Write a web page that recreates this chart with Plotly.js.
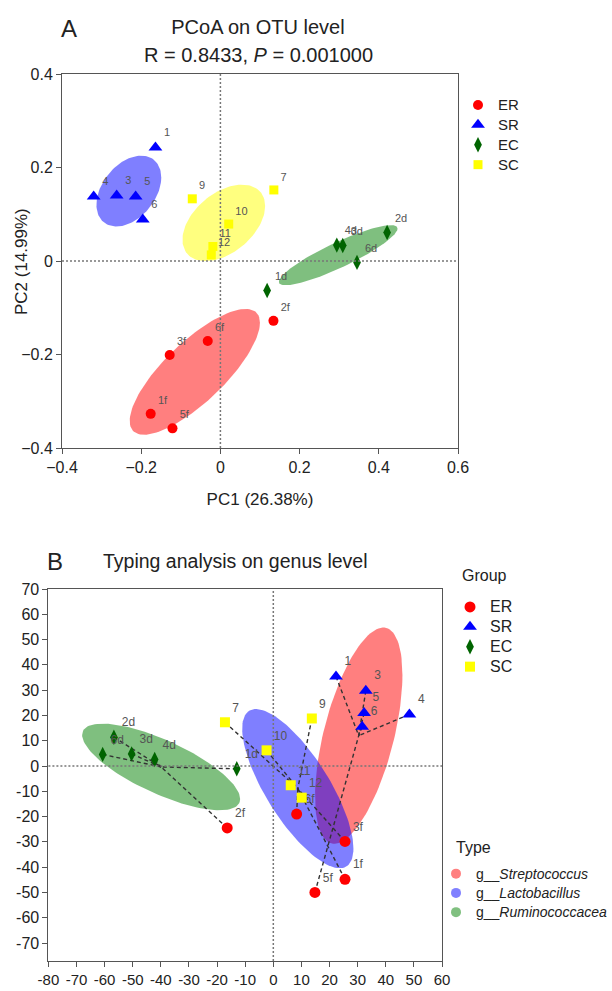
<!DOCTYPE html>
<html><head><meta charset="utf-8">
<script src="https://cdn.plot.ly/plotly-3.0.1.min.js"></script>
<style>html,body{margin:0;padding:0;background:#fff}</style>
</head><body><div id="chart" style="width:612px;height:991px"></div>
<script>
// ---------- Panel A: PCoA on OTU level ----------
const groupNames = ['ER', 'SR', 'EC', 'SC'];
const pcoaLabelsER = ['1f', '2f', '3f', '5f', '6f'];
const pcoaER_x = [-0.176, 0.134, -0.128, -0.121, -0.032];
const pcoaER_y = [-0.327, -0.128, -0.201, -0.358, -0.171];
const pcoaLabelsSR = ['1', '3', '4', '5', '6'];
const pcoaSR_x = [-0.164, -0.262, -0.320, -0.214, -0.196];
const pcoaSR_y = [0.243, 0.140, 0.138, 0.138, 0.089];
const pcoaLabelsEC = ['1d', '2d', '3d', '4d', '6d'];
const pcoaEC_x = [0.118, 0.421, 0.309, 0.294, 0.345];
const pcoaEC_y = [-0.063, 0.061, 0.033, 0.034, -0.003];
const pcoaLabelsSC = ['7', '9', '10', '11', '12'];
const pcoaSC_x = [0.135, -0.071, 0.021, -0.019, -0.023];
const pcoaSC_y = [0.152, 0.133, 0.079, 0.031, 0.013];
const pcoaXTicks = [-0.4, -0.2, 0, 0.2, 0.4, 0.6];
const pcoaYTicks = [-0.4, -0.2, 0, 0.2, 0.4];

// ---------- Panel B: Typing analysis on genus level ----------
const typeNames = ['Streptococcus', 'Lactobacillus', 'Ruminococcacea'];
const genusLabelsER = ['1f', '2f', '3f', '5f', '6f'];
const genusER_x = [25.5, -16.4, 25.5, 14.8, 8.3];
const genusER_y = [-44.8, -24.5, -29.8, -50.0, -19.0];
const genusTypeER = ['Lactobacillus', 'Ruminococcacea', 'Lactobacillus', 'Streptococcus', 'Lactobacillus'];
const genusLabelsSR = ['1', '3', '4', '5', '6'];
const genusSR_x = [22.3, 32.9, 48.4, 32.3, 31.6];
const genusSR_y = [35.4, 29.8, 20.4, 21.0, 15.5];
const genusTypeSR = ['Streptococcus', 'Streptococcus', 'Streptococcus', 'Streptococcus', 'Streptococcus'];
const genusLabelsEC = ['1d', '2d', '3d', '4d', '6d'];
const genusEC_x = [-13.0, -56.7, -50.4, -42.2, -60.7];
const genusEC_y = [-1.1, 11.4, 4.8, 2.6, 4.6];
const genusTypeEC = ['Ruminococcacea', 'Ruminococcacea', 'Ruminococcacea', 'Ruminococcacea', 'Ruminococcacea'];
const genusLabelsSC = ['7', '9', '10', '11', '12'];
const genusSC_x = [-17.2, 13.7, -2.4, 6.2, 10.1];
const genusSC_y = [17.3, 18.8, 6.2, -7.6, -12.5];
const genusTypeSC = ['Lactobacillus', 'Lactobacillus', 'Lactobacillus', 'Lactobacillus', 'Lactobacillus'];
const genusXTicks = [-80, -70, -60, -50, -40, -30, -20, -10, 0, 10, 20, 30, 40, 50, 60];
const genusXTickText = ['-80', '-70', '-60', '-50', '-40', '-30', '-20', '-10', '0', '10', '20', '30', '40', '50', '60'];
const genusYTicks = [-70, -60, -50, -40, -30, -20, -10, 0, 10, 20, 30, 40, 50, 60, 70];
const genusYTickText = ['-70', '-60', '-50', '-40', '-30', '-20', '-10', '0', '10', '20', '30', '40', '50', '60', '70'];

// ---------- styles ----------
const FONT = "'Liberation Sans', Arial, sans-serif";
const TXT = '#222';
const groupColors = {ER: '#ff0000', SR: '#0000ff', EC: '#006400', SC: '#ffff00'};
const groupSymbols = {ER: 'circle', SR: 'triangle-up', EC: 'diamond-tall', SC: 'square'};
const groupSizesA = {ER: 10, SR: 12, EC: 11, SC: 9};
const groupSizesB = {ER: 11, SR: 12, EC: 11, SC: 10};
const fillA = {ER: 'rgba(255,0,0,0.5)', SR: 'rgba(0,0,255,0.5)', EC: 'rgba(0,128,0,0.5)', SC: 'rgba(255,255,0,0.5)'};
const typeFill = {Streptococcus: 'rgba(255,0,0,0.5)', Lactobacillus: 'rgba(0,0,255,0.5)', Ruminococcacea: 'rgba(0,128,0,0.5)'};
const typeLegendColor = {Streptococcus: '#ff8080', Lactobacillus: '#8080ff', Ruminococcacea: '#80c080'};
const ELLIPSE_K = 1.5;

function mean(a) { return a.reduce((s, v) => s + v, 0) / a.length; }
function ellipse(xs, ys, k) {
  const n = xs.length, mx = mean(xs), my = mean(ys);
  let sxx = 0, syy = 0, sxy = 0;
  for (let i = 0; i < n; i++) {
    const dx = xs[i] - mx, dy = ys[i] - my;
    sxx += dx * dx; syy += dy * dy; sxy += dx * dy;
  }
  sxx /= n; syy /= n; sxy /= n;
  const a = Math.sqrt(sxx), b = sxy / a, c = Math.sqrt(Math.max(syy - b * b, 0));
  const ex = [], ey = [];
  for (let j = 0; j <= 120; j++) {
    const t = 2 * Math.PI * j / 120;
    ex.push(mx + k * a * Math.cos(t));
    ey.push(my + k * (b * Math.cos(t) + c * Math.sin(t)));
  }
  return {x: ex, y: ey, cx: mx, cy: my};
}

const dataA = {
  ER: {x: pcoaER_x, y: pcoaER_y, t: pcoaLabelsER},
  SR: {x: pcoaSR_x, y: pcoaSR_y, t: pcoaLabelsSR},
  EC: {x: pcoaEC_x, y: pcoaEC_y, t: pcoaLabelsEC},
  SC: {x: pcoaSC_x, y: pcoaSC_y, t: pcoaLabelsSC}
};
const dataB = {
  ER: {x: genusER_x, y: genusER_y, t: genusLabelsER, type: genusTypeER},
  SR: {x: genusSR_x, y: genusSR_y, t: genusLabelsSR, type: genusTypeSR},
  EC: {x: genusEC_x, y: genusEC_y, t: genusLabelsEC, type: genusTypeEC},
  SC: {x: genusSC_x, y: genusSC_y, t: genusLabelsSC, type: genusTypeSC}
};

const traces = [];
// Panel A ellipses
groupNames.forEach(g => {
  const e = ellipse(dataA[g].x, dataA[g].y, ELLIPSE_K);
  traces.push({x: e.x, y: e.y, xaxis: 'x', yaxis: 'y', mode: 'lines', fill: 'toself',
    fillcolor: fillA[g], line: {width: 0, color: 'rgba(0,0,0,0)'}, showlegend: false, hoverinfo: 'skip'});
});
// Panel A points
groupNames.forEach(g => {
  traces.push({x: dataA[g].x, y: dataA[g].y, text: dataA[g].t, name: '<span style="font-size:15px">' + g + '</span>',
    xaxis: 'x', yaxis: 'y', mode: 'markers+text', textposition: 'top right',
    textfont: {family: FONT, size: 11, color: '#555'},
    marker: {symbol: groupSymbols[g], size: groupSizesA[g], color: groupColors[g], line: {width: 0}},
    legend: 'legend', cliponaxis: false});
});

// Panel B: type membership
const typePts = {};
typeNames.forEach(t => typePts[t] = {x: [], y: []});
groupNames.forEach(g => {
  dataB[g].type.forEach((t, i) => { typePts[t].x.push(dataB[g].x[i]); typePts[t].y.push(dataB[g].y[i]); });
});
const typeEll = {};
typeNames.forEach(t => {
  const e = ellipse(typePts[t].x, typePts[t].y, ELLIPSE_K);
  typeEll[t] = e;
  traces.push({x: e.x, y: e.y, xaxis: 'x2', yaxis: 'y2', mode: 'lines', fill: 'toself',
    fillcolor: typeFill[t], line: {width: 0, color: 'rgba(0,0,0,0)'}, showlegend: false, hoverinfo: 'skip'});
});
// dashed segments from each sample to its type centre
typeNames.forEach(t => {
  const sx = [], sy = [];
  typePts[t].x.forEach((v, i) => { sx.push(v, typeEll[t].cx, null); sy.push(typePts[t].y[i], typeEll[t].cy, null); });
  traces.push({x: sx, y: sy, xaxis: 'x2', yaxis: 'y2', mode: 'lines',
    line: {color: '#333', width: 1.4, dash: '4px,3px'}, showlegend: false, hoverinfo: 'skip'});
});
// Panel B points
groupNames.forEach(g => {
  traces.push({x: dataB[g].x, y: dataB[g].y, text: dataB[g].t, name: '<span style="font-size:16px">' + g + '</span>',
    xaxis: 'x2', yaxis: 'y2', mode: 'markers+text', textposition: 'top right',
    textfont: {family: FONT, size: 12, color: '#555'},
    marker: {symbol: groupSymbols[g], size: groupSizesB[g], color: groupColors[g], line: {width: 0}},
    legend: 'legend2', cliponaxis: false});
});
// Type legend entries
typeNames.forEach(t => {
  traces.push({x: [null], y: [null], xaxis: 'x2', yaxis: 'y2', mode: 'markers',
    name: '<span style="font-size:14px">g__<i>' + t + '</i></span>',
    marker: {symbol: 'circle', size: 10, color: typeLegendColor[t]}, legend: 'legend3', hoverinfo: 'skip'});
});

const axisCommon = {
  showgrid: false, zeroline: false, showline: true, linecolor: '#555', linewidth: 1, mirror: true,
  ticks: 'outside', ticklen: 5, tickcolor: '#555', tickangle: 0, automargin: false
};
const dotLine = {color: '#777', width: 1.5, dash: '2px,2px'};

const layout = {
  width: 612, height: 991,
  margin: {l: 0, r: 0, t: 0, b: 0},
  paper_bgcolor: '#fff', plot_bgcolor: '#fff',
  font: {family: FONT, color: TXT},
  title: {text: 'PCoA on OTU level', font: {family: FONT, size: 20, color: TXT},
    x: 258 / 612, xanchor: 'center', xref: 'paper', y: 1 - 27 / 991, yanchor: 'middle', yref: 'container'},
  xaxis: Object.assign({}, axisCommon, {domain: [62 / 612, 458 / 612], range: [-0.4, 0.6], tickvals: pcoaXTicks,
    tickfont: {family: FONT, size: 16, color: TXT}, anchor: 'y',
    title: {text: 'PC1 (26.38%)', font: {family: FONT, size: 17, color: TXT}, standoff: 17}}),
  yaxis: Object.assign({}, axisCommon, {domain: [1 - 448 / 991, 1 - 74 / 991], range: [-0.4, 0.4], tickvals: pcoaYTicks,
    tickfont: {family: FONT, size: 16, color: TXT}, anchor: 'x'}),
  xaxis2: Object.assign({}, axisCommon, {domain: [48.4 / 612, 442 / 612], range: [-80, 60], tickvals: genusXTicks,
    ticktext: genusXTickText, tickfont: {family: FONT, size: 15, color: TXT}, anchor: 'y2'}),
  yaxis2: Object.assign({}, axisCommon, {domain: [1 - 961 / 991, 1 - 589 / 991], range: [-77.1, 70], tickvals: genusYTicks,
    ticktext: genusYTickText, tickfont: {family: FONT, size: 16, color: TXT}, anchor: 'x2'}),
  shapes: [
    {type: 'line', xref: 'x', yref: 'y domain', x0: 0, x1: 0, y0: 0, y1: 1, line: dotLine, layer: 'above'},
    {type: 'line', xref: 'x domain', yref: 'y', x0: 0, x1: 1, y0: 0, y1: 0, line: dotLine, layer: 'above'},
    {type: 'line', xref: 'x2', yref: 'y2 domain', x0: 0, x1: 0, y0: 0, y1: 1, line: dotLine, layer: 'above'},
    {type: 'line', xref: 'x2 domain', yref: 'y2', x0: 0, x1: 1, y0: 0, y1: 0, line: dotLine, layer: 'above'}
  ],
  annotations: [
    {text: 'R = 0.8433, <i>P</i> = 0.001000', x: 258 / 612, y: 1 - 55 / 991, xref: 'paper', yref: 'paper',
      xanchor: 'center', yanchor: 'middle', showarrow: false, font: {family: FONT, size: 20, color: TXT}},
    {text: 'PC2 (14.99%)', x: 22 / 612, y: 1 - 262 / 991, xref: 'paper', yref: 'paper', textangle: -90,
      xanchor: 'center', yanchor: 'middle', showarrow: false, font: {family: FONT, size: 17, color: TXT}},
    {text: 'A', x: 69 / 612, y: 1 - 28 / 991, xref: 'paper', yref: 'paper', xanchor: 'center', yanchor: 'middle',
      showarrow: false, font: {family: FONT, size: 24, color: TXT}},
    {text: 'B', x: 55 / 612, y: 1 - 561 / 991, xref: 'paper', yref: 'paper', xanchor: 'center', yanchor: 'middle',
      showarrow: false, font: {family: FONT, size: 24, color: TXT}},
    {text: 'Typing analysis on genus level', x: 101 / 612, y: 1 - 561 / 991, xref: 'paper', yref: 'paper',
      xanchor: 'left', yanchor: 'middle', showarrow: false, font: {family: FONT, size: 19.5, color: TXT}},
    {text: 'Group', x: 460 / 612, y: 1 - 575 / 991, xref: 'paper', yref: 'paper', xanchor: 'left', yanchor: 'middle',
      showarrow: false, font: {family: FONT, size: 16, color: TXT}},
    {text: 'Type', x: 454 / 612, y: 1 - 847 / 991, xref: 'paper', yref: 'paper', xanchor: 'left', yanchor: 'middle',
      showarrow: false, font: {family: FONT, size: 16, color: TXT}}
  ],
  legend: {x: 458 / 612, xanchor: 'left', y: 1 - 90 / 991, yanchor: 'top', bgcolor: 'rgba(0,0,0,0)',
    font: {family: FONT, size: 13, color: TXT}, itemclick: false, itemdoubleclick: false},
  legend2: {x: 450 / 612, xanchor: 'left', y: 1 - 592 / 991, yanchor: 'top', bgcolor: 'rgba(0,0,0,0)',
    font: {family: FONT, size: 13, color: TXT}, itemclick: false, itemdoubleclick: false},
  legend3: {x: 1, xanchor: 'right', y: 1 - 859 / 991, yanchor: 'top', bgcolor: 'rgba(0,0,0,0)',
    font: {family: FONT, size: 12.5, color: TXT}, itemclick: false, itemdoubleclick: false},
  showlegend: true
};

Plotly.newPlot('chart', traces, layout, {displayModeBar: false, staticPlot: true});
</script>
</body></html>
